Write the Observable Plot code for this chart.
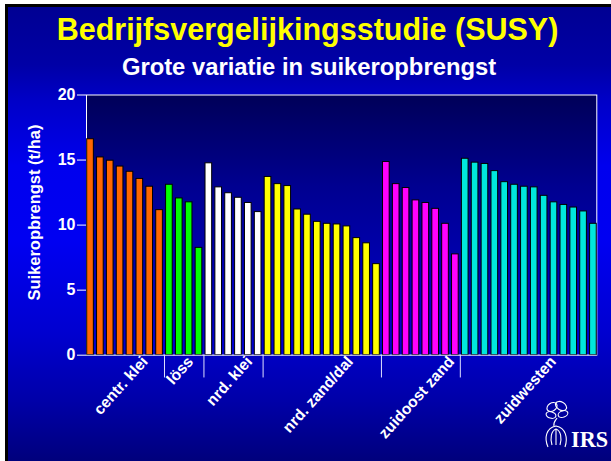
<!DOCTYPE html>
<html>
<head>
<meta charset="utf-8">
<script src="https://cdn.jsdelivr.net/npm/d3@7"></script>
<script src="https://cdn.jsdelivr.net/npm/@observablehq/plot@0.6"></script>
<style>
  html, body { margin: 0; padding: 0; background: #ffffff; }
  #wrap {
    position: relative; width: 611px; height: 461px; overflow: hidden;
    background: linear-gradient(to bottom, #000090 0%, #0000a6 14%, #0000c8 22%, #0000ee 36%, #0000f2 52%, #0000d0 72%, #0000a8 87%, #00007c 100%);
    font-family: "Liberation Sans", Arial, sans-serif;
  }
  #bl1 { position: absolute; left: 0; top: 0; width: 5px; height: 461px; background: #ffffff; }
  #bl2 { position: absolute; left: 5px; top: 0; width: 3px; height: 461px; background: #000000; }
  #bt1 { position: absolute; left: 0; top: 0; width: 611px; height: 4px; background: #ffffff; }
  #bt2 { position: absolute; left: 5px; top: 4px; width: 606px; height: 3px; background: #000000; }
  #title { position: absolute; left: 0; width: 615px; top: 14px; text-align: center; font-weight: bold; font-size: 30.5px; line-height: 30.5px; color: #ffff00; white-space: nowrap; }
  #subtitle { position: absolute; left: 0; width: 618px; top: 54.5px; text-align: center; font-weight: bold; font-size: 23.8px; line-height: 23.8px; color: #ffffff; white-space: nowrap; }
  #chart { position: absolute; left: 0; top: 0; }
  #logo { position: absolute; left: 540px; top: 398px; }
</style>
</head>
<body>
<div id="wrap">
  <div id="title">Bedrijfsvergelijkingsstudie (SUSY)</div>
  <div id="subtitle">Grote variatie in suikeropbrengst</div>
  <div id="chart"></div>
  <svg id="logo" width="71" height="60" viewBox="0 0 71 60">
    <g fill="none" stroke="#ffffff" stroke-width="1.1">
      <ellipse cx="12" cy="9" rx="5.5" ry="4" transform="rotate(-35 12 9)"/>
      <ellipse cx="21" cy="8" rx="6" ry="4" transform="rotate(30 21 8)"/>
      <ellipse cx="11" cy="17" rx="5" ry="3.2" transform="rotate(15 11 17)"/>
      <ellipse cx="23" cy="16" rx="5" ry="3.2" transform="rotate(-20 23 16)"/>
      <path d="M8 49 C4 40 6 30 16 28 C26 30 28 40 25 49"/>
      <path d="M12 47 C10 40 11 33 16 31 C21 33 22 40 20 47"/>
      <path d="M16 31 L16 47"/>
      <path d="M14 28 C13 24 16 22 17 20"/>
    </g>
    <text x="31" y="48.5" fill="#ffffff" font-family="'Liberation Serif', 'DejaVu Serif', serif" font-weight="bold" font-size="22.5" textLength="37" lengthAdjust="spacingAndGlyphs">IRS</text>
  </svg>
  <div id="bl1"></div><div id="bl2"></div><div id="bt1"></div><div id="bt2"></div>
</div>
<script>
// ---- data ----
const groups = ["centr. klei", "löss", "nrd. klei", "nrd. zand/dal", "zuidoost zand", "zuidwesten"];
const centrKlei    = [16.6, 15.2, 14.95, 14.5, 14.1, 13.55, 12.95, 11.15];
const loss         = [13.1, 12.05, 11.75, 8.25];
const nrdKlei      = [14.75, 12.9, 12.45, 12.1, 11.7, 11.0];
const nrdZandDal   = [13.7, 13.15, 13.0, 11.2, 10.8, 10.25, 10.1, 10.05, 9.9, 9.0, 8.6, 7.0];
const zuidoostZand = [14.85, 13.15, 12.85, 11.9, 11.7, 11.25, 10.1, 7.75];
const zuidwesten   = [15.1, 14.8, 14.7, 14.15, 13.3, 13.1, 12.95, 12.9, 12.25, 11.75, 11.55, 11.35, 11.05, 10.1];
const yTicks = [0, 5, 10, 15, 20];
const yLabel = "Suikeropbrengst (t/ha)";

// ---- styles ----
const groupColors = ["#ff6600", "#00ff00", "#ffffff", "#ffff00", "#ff00ff", "#00e6dc"];

// ---- build table ----
const series = [centrKlei, loss, nrdKlei, nrdZandDal, zuidoostZand, zuidwesten];
const bars = [];
const groupInfo = [];
let idx = 0;
series.forEach((vals, k) => {
  const start = idx;
  vals.forEach(v => { bars.push({i: idx, group: groups[k], value: v}); idx++; });
  groupInfo.push({group: groups[k], start, end: idx - 1});
});

const ctx = document.createElement("canvas").getContext("2d");
ctx.font = "bold 15.6px 'Liberation Sans', Arial, sans-serif";

const labelMarks = groupInfo.map(g => {
  const L = ctx.measureText(g.group).width;
  return Plot.text([g.group], {
    x: (g.start + g.end) / 2 + 0.41, y: 0, text: d => d,
    rotate: -48, textAnchor: "end", lineAnchor: "bottom",
    dx: 0.3345 * L - 0.5, dy: 7,
    fontSize: 15.6, fontWeight: "bold", fill: "white"
  });
});

const chart = Plot.plot({
  width: 611, height: 461,
  marginLeft: 86, marginRight: 14.7, marginTop: 94.5, marginBottom: 106.3,
  style: {background: "transparent", color: "white", fontFamily: "'Liberation Sans', Arial, sans-serif", overflow: "visible"},
  x: {domain: [0, 51.75], axis: null},
  y: {domain: [0, 20], axis: null},
  color: {domain: groups, range: groupColors},
  marks: [
    Plot.frame({fill: "url(#plotBg)", stroke: "white", strokeWidth: 1}),
    Plot.axisY({ticks: yTicks, tickSize: 9, tickPadding: 2, fontSize: 16, fontWeight: "bold", label: null, stroke: "white", fill: "white"}),
    Plot.rectY(bars, {x1: d => d.i + 0.07, x2: d => d.i + 0.745, y1: 0, y2: "value", fill: "group", stroke: "black", strokeWidth: 1}),
    Plot.ruleY([0], {stroke: "#b8b8e8", strokeWidth: 1}),
    Plot.ruleX(groupInfo.slice(1), {x: d => d.start - 0.09, y1: 0, y2: -1.75, stroke: "#e0e0ff", strokeWidth: 1}),
    ...labelMarks,
    Plot.text([yLabel], {frameAnchor: "left", textAnchor: "middle", text: d => d, rotate: -90, dx: -52, dy: -12.5, fontSize: 16.5, fontWeight: "bold", fill: "white"})
  ]
});

const defs = d3.select(chart).insert("defs", ":first-child");
const lg = defs.append("linearGradient").attr("id", "plotBg").attr("x1", 0).attr("y1", 0).attr("x2", 0).attr("y2", 1);
lg.append("stop").attr("offset", "0%").attr("stop-color", "#000058");
lg.append("stop").attr("offset", "35%").attr("stop-color", "#000090");
lg.append("stop").attr("offset", "100%").attr("stop-color", "#0000d4");

document.getElementById("chart").appendChild(chart);
</script>
</body>
</html>
